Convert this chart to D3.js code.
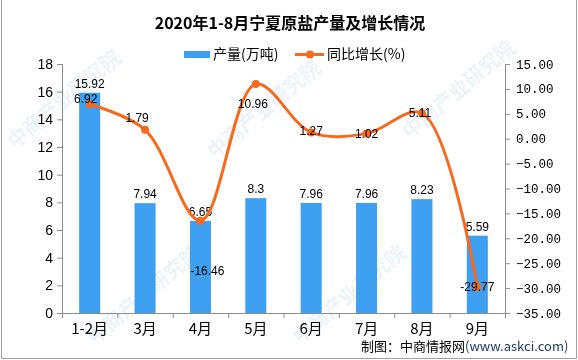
<!DOCTYPE html>
<html><head><meta charset="utf-8">
<script src="https://cdn.jsdelivr.net/npm/d3@7"></script>
<style>body{margin:0;background:#fff}svg{display:block}</style>
</head><body>
<svg id="c" width="578" height="360"></svg>
<script>
const categories = ["1-2月","3月","4月","5月","6月","7月","8月","9月"];
const production = [15.92, 7.94, 6.65, 8.3, 7.96, 7.96, 8.23, 5.59];
const growth = [6.92, 1.79, -16.46, 10.96, 1.27, 1.02, 5.11, -29.77];
const leftTicks = [0,2,4,6,8,10,12,14,16,18];
const rightTicks = [15,10,5,0,-5,-10,-15,-20,-25,-30,-35];
// label nudges (style only)
const growthLabelShift = [[-4,-5],[-8,-12],[7,50],[-3,20],[0,-1],[0,0],[-2,0],[0,0]];

const svg = d3.select("#c");
const x0 = 62, x1 = 505, yTop = 64, yBot = 313;
const barColor = "#3f9ff0", lineColor = "#f76a1e", axisColor = "#8c8c8c";
const sans = "'Liberation Sans','Noto Sans CJK SC',sans-serif";
const cjk = "'Noto Sans CJK SC','Liberation Sans',sans-serif";

// border
svg.append("path").attr("d",`M1.5,0 V358.5 H576.5 V0`).attr("fill","none").attr("stroke","#a0a0a0");

// watermarks (kept inside the picture)
const wm = svg.append("g").attr("fill","#c6dcee").attr("opacity",0.35)
  .attr("font-family",cjk).attr("font-size",20).attr("font-weight","bold");
[[15,150],[215,160],[410,140],[95,345],[300,345]].forEach(([x,y])=>{
  wm.append("text").attr("transform",`translate(${x},${y}) rotate(-40)`).text("中商产业研究院");
});

const x = d3.scaleBand().domain(categories).range([x0,x1]).paddingInner(0.62).paddingOuter(0.31);
const yL = d3.scaleLinear().domain([0,18]).range([yBot,yTop]);
const yR = d3.scaleLinear().domain([-35,15]).range([yBot,yTop]);
const cx = c => x(c) + x.bandwidth()/2;

// axes
const axL = svg.append("g").attr("transform",`translate(${x0},0)`)
  .call(d3.axisLeft(yL).tickValues(leftTicks).tickSize(5).tickPadding(4));
const axR = svg.append("g").attr("transform",`translate(${x1},0)`)
  .call(d3.axisRight(yR).tickValues(rightTicks).tickSize(5).tickPadding(6).tickFormat(d3.format(".2f")));
const xTicks = d3.range(categories.length+1).map(i => x0 + i*(x1-x0)/categories.length);
const axB = svg.append("g").attr("transform",`translate(0,${yBot})`)
  .call(d3.axisBottom(d3.scaleLinear().domain([x0,x1]).range([x0,x1])).tickValues(xTicks).tickSize(5).tickFormat(""));
[axL,axR,axB].forEach(g=>{
  g.selectAll("path,line").attr("stroke",axisColor);
});
axL.select(".domain").attr("d",`M0.5,${yTop}V${yBot}`);
axR.select(".domain").attr("d",`M0.5,${yTop}V${yBot}`);
axB.select(".domain").attr("d",`M${x0},0.5H${x1}`);
axL.selectAll("text").attr("font-family",sans).attr("font-size",14).attr("fill","#000");
axR.selectAll("text").attr("font-family","'Liberation Mono',monospace").attr("font-size",12.5).attr("fill","#000");

// x labels
svg.append("g").selectAll("text").data(categories).join("text")
  .attr("x",d=>cx(d)).attr("y",334).attr("text-anchor","middle")
  .attr("font-family",cjk).attr("font-size",15).text(d=>d);

// bars
svg.append("g").selectAll("rect").data(production).join("rect")
  .attr("x",(d,i)=>x(categories[i])).attr("width",x.bandwidth())
  .attr("y",d=>yL(d)).attr("height",d=>yBot-yL(d)).attr("fill",barColor);

// bar labels
svg.append("g").selectAll("text").data(production).join("text")
  .attr("x",(d,i)=>cx(categories[i])).attr("y",d=>yL(d)-5).attr("text-anchor","middle")
  .attr("font-family",sans).attr("font-size",12).text(d=>d);

// line
const pts = growth.map((v,i)=>[cx(categories[i]), yR(v)]);
svg.append("path").attr("d", d3.line().curve(d3.curveCatmullRom.alpha(0.5))(pts))
  .attr("fill","none").attr("stroke",lineColor).attr("stroke-width",3);
svg.append("g").selectAll("circle").data(pts).join("circle")
  .attr("cx",d=>d[0]).attr("cy",d=>d[1]).attr("r",4).attr("fill",lineColor);

// line labels
svg.append("g").selectAll("text").data(growth).join("text")
  .attr("x",(d,i)=>pts[i][0]+growthLabelShift[i][0]).attr("y",(d,i)=>pts[i][1]+growthLabelShift[i][1]+4)
  .attr("text-anchor","middle").attr("font-family",sans).attr("font-size",12).text(d=>d);

// title
svg.append("text").attr("x",290).attr("y",29).attr("text-anchor","middle")
  .attr("font-family",cjk).attr("font-weight","bold").attr("font-size",16)
  .text("2020年1-8月宁夏原盐产量及增长情况");

// legend
const lg = svg.append("g").attr("font-family",cjk).attr("font-size",14);
lg.append("rect").attr("x",184).attr("y",51).attr("width",26).attr("height",7).attr("fill",barColor);
lg.append("text").attr("x",213).attr("y",59).text("产量(万吨)");
lg.append("line").attr("x1",295).attr("x2",324).attr("y1",54.5).attr("y2",54.5).attr("stroke",lineColor).attr("stroke-width",3);
lg.append("circle").attr("cx",310).attr("cy",54.5).attr("r",4).attr("fill",lineColor);
lg.append("text").attr("x",327).attr("y",59).text("同比增长(%)");

// source
const src = svg.append("text").attr("x",361).attr("y",351).attr("font-family",cjk).attr("font-size",13);
src.append("tspan").text("制图：中商情报网");
src.append("tspan").attr("fill","#1f3a6b").text("(www.askci.com)");
</script>
</body></html>
